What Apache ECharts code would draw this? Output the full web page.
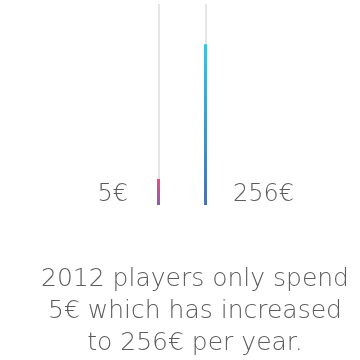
<!DOCTYPE html>
<html>
<head>
<meta charset="utf-8">
<script src="https://cdn.jsdelivr.net/npm/echarts@6/dist/echarts.min.js"></script>
<style>
html, body { margin: 0; padding: 0; background: #fff; }
#draw { width: 360px; height: 360px; }
</style>
</head>
<body>
<div id="draw"></div>
<script>
// data
var years = ['2012', 'now'];
var spendLabels = ['5€', '256€'];
var barHeights = [13, 80]; // bar length as % of the grey track
var caption = ['2012 players only spend', '5€ which has increased', 'to 256€ per year.'];

var myChart = echarts.init(document.getElementById('draw'));

var colors = [
	['#ec4a86', '#8c5bab'],
	['#3ec3e0', '#4a6fb3']
];

var labelCfg = [
	{ position: ['0%', '100%'], offset: [-29, -10], align: 'right' },
	{ position: ['100%', '100%'], offset: [26, -10], align: 'left' }
];

var data = barHeights.map(function(v, i) {
	return {
		value : v,
		itemStyle : {
			color : new echarts.graphic.LinearGradient(0, 0, 0, 1, [
				{ offset : 0, color : colors[i][0] },
				{ offset : 1, color : colors[i][1] }
			])
		},
		label : {
			show : true,
			formatter : spendLabels[i],
			position : labelCfg[i].position,
			offset : labelCfg[i].offset,
			align : labelCfg[i].align,
			verticalAlign : 'middle',
			fontSize : 24,
			fontFamily : 'DejaVu Sans',
			fontWeight : 200,
			color : '#5c5c5c'
		}
	};
});

var option = {
	animation : false,
	title : {
		text : caption.join('\n'),
		left : 190,
		top : 258,
		textAlign : 'center',
		textStyle : {
			fontSize : 25,
			fontWeight : 200,
			fontFamily : 'DejaVu Sans',
			color : '#5c5c5c',
			lineHeight : 32
		}
	},
	grid : {
		left : 158.5,
		right : 154.5,
		top : 4,
		bottom : 155
	},
	xAxis : {
		type : 'category',
		data : years,
		boundaryGap : false,
		axisLine : { show : false },
		axisTick : { show : false },
		axisLabel : { show : false },
		splitLine : {
			show : true,
			lineStyle : { color : '#dcdcdc', width : 1.5 }
		}
	},
	yAxis : {
		type : 'value',
		min : 0,
		max : 100,
		show : false
	},
	series : [ {
		type : 'bar',
		barWidth : 3,
		clip : false,
		data : data
	} ]
};
myChart.setOption(option);
</script>
</body>
</html>
